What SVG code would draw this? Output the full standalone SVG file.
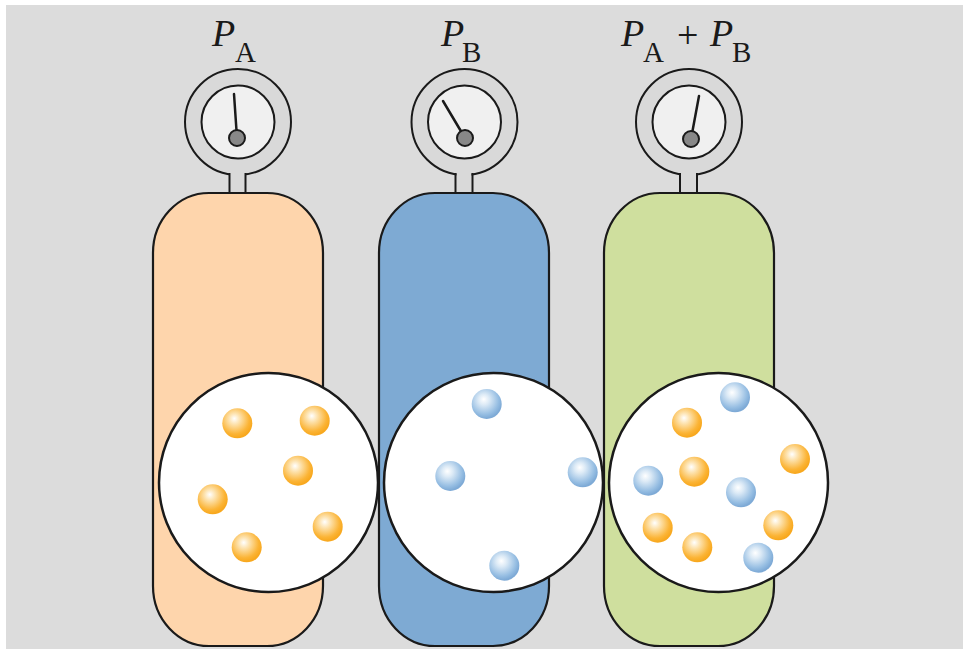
<svg xmlns="http://www.w3.org/2000/svg" width="965" height="649" viewBox="0 0 965 649">
  <defs>
    <radialGradient id="ballOrange" cx="0.42" cy="0.38" r="0.6" fx="0.4" fy="0.34">
      <stop offset="0" stop-color="#ffffff"/>
      <stop offset="0.3" stop-color="#fde3b0"/>
      <stop offset="0.8" stop-color="#fbb436"/>
      <stop offset="1" stop-color="#f8a81e"/>
    </radialGradient>
    <radialGradient id="ballBlue" cx="0.42" cy="0.38" r="0.6" fx="0.4" fy="0.34">
      <stop offset="0" stop-color="#ffffff"/>
      <stop offset="0.3" stop-color="#dceaf6"/>
      <stop offset="0.8" stop-color="#95bde2"/>
      <stop offset="1" stop-color="#7eaad6"/>
    </radialGradient>
  </defs>
  <style>
    .outline { stroke: #1a1a1a; stroke-width: 2.2; }
    .ring { fill: #d9d9d9; stroke: #1a1a1a; stroke-width: 2; }
    .face { fill: #f0f0f0; stroke: #1a1a1a; stroke-width: 2; }
    .hub { fill: #888888; stroke: #1a1a1a; stroke-width: 2; }
    .needle { stroke: #1a1a1a; stroke-width: 2.5; stroke-linecap: round; }
    .stem { fill: #d9d9d9; }
    .stemside { stroke: #1a1a1a; stroke-width: 2; }
    .lens { fill: #ffffff; stroke: #1a1a1a; stroke-width: 2.5; }
    .a { fill: url(#ballOrange); }
    .b { fill: url(#ballBlue); }
    .lbl { font-family: "Liberation Serif", "Times New Roman", serif; fill: #1a1a1a; }
    .var { font-style: italic; font-size: 38px; }
    .sub { font-size: 29px; }
    .op { font-size: 38px; }
  </style>

  <!-- page -->
  <rect x="0" y="0" width="965" height="649" fill="#ffffff"/>
  <rect x="6" y="5" width="957" height="644" fill="#dcdcdc"/>

  <!-- tank A: gas A alone -->
  <g id="tankA">
    <text class="lbl" x="212" y="46"><tspan class="var">P</tspan><tspan class="sub" x="235" y="62">A</tspan></text>
    <circle class="ring" cx="238" cy="122" r="53"/>
    <rect class="stem" x="230" y="165" width="15" height="29"/>
    <line class="stemside" x1="229.5" y1="173" x2="229.5" y2="194"/>
    <line class="stemside" x1="245.5" y1="173" x2="245.5" y2="194"/>
    <circle class="face" cx="238" cy="122" r="36.5"/>
    <line class="needle" x1="237" y1="138" x2="234" y2="94"/>
    <circle class="hub" cx="237" cy="138" r="8"/>
    <rect class="outline" x="153" y="193" width="170" height="453" rx="56" ry="60" fill="#fed5ac"/>
    <circle class="lens" cx="268.5" cy="482.5" r="109.5"/>
    <circle class="a" cx="237.3" cy="423.3" r="15"/>
    <circle class="a" cx="314.7" cy="420.7" r="15"/>
    <circle class="a" cx="298" cy="470.7" r="15"/>
    <circle class="a" cx="212.7" cy="499.3" r="15"/>
    <circle class="a" cx="327.7" cy="526.7" r="15"/>
    <circle class="a" cx="246.7" cy="547.3" r="15"/>
  </g>

  <!-- tank B: gas B alone -->
  <g id="tankB">
    <text class="lbl" x="441" y="46"><tspan class="var">P</tspan><tspan class="sub" x="462" y="62">B</tspan></text>
    <circle class="ring" cx="464.5" cy="122" r="53"/>
    <rect class="stem" x="456.5" y="165" width="15" height="29"/>
    <line class="stemside" x1="455.5" y1="173" x2="455.5" y2="194"/>
    <line class="stemside" x1="472.5" y1="173" x2="472.5" y2="194"/>
    <circle class="face" cx="464.5" cy="122" r="36.5"/>
    <line class="needle" x1="465" y1="138" x2="443" y2="101"/>
    <circle class="hub" cx="465" cy="138" r="8"/>
    <rect class="outline" x="379" y="193" width="170" height="453" rx="56" ry="60" fill="#7eaad3"/>
    <circle class="lens" cx="493.5" cy="482.5" r="109.5"/>
    <circle class="b" cx="486.7" cy="404" r="15"/>
    <circle class="b" cx="450.3" cy="476" r="15"/>
    <circle class="b" cx="582.7" cy="472.3" r="15"/>
    <circle class="b" cx="504.3" cy="565.7" r="15"/>
  </g>

  <!-- tank AB: both gases mixed -->
  <g id="tankAB">
    <text class="lbl" x="621" y="46"><tspan class="var">P</tspan><tspan class="sub" x="643" y="62">A</tspan><tspan class="op" x="677" y="48">+</tspan><tspan class="var" x="710" y="46">P</tspan><tspan class="sub" x="732" y="62">B</tspan></text>
    <circle class="ring" cx="689" cy="122" r="53"/>
    <rect class="stem" x="681" y="165" width="15" height="29"/>
    <line class="stemside" x1="680" y1="173" x2="680" y2="194"/>
    <line class="stemside" x1="697" y1="173" x2="697" y2="194"/>
    <circle class="face" cx="689" cy="122" r="36.5"/>
    <line class="needle" x1="691" y1="139" x2="699" y2="96"/>
    <circle class="hub" cx="691" cy="139" r="8"/>
    <rect class="outline" x="604" y="193" width="170" height="453" rx="56" ry="60" fill="#cfdf9e"/>
    <circle class="lens" cx="718.5" cy="482.5" r="109.5"/>
    <circle class="b" cx="735" cy="397.3" r="15"/>
    <circle class="a" cx="687" cy="422.7" r="15"/>
    <circle class="a" cx="795" cy="459" r="15"/>
    <circle class="b" cx="648.3" cy="480.7" r="15"/>
    <circle class="a" cx="694.3" cy="471.7" r="15"/>
    <circle class="b" cx="741" cy="492.3" r="15"/>
    <circle class="a" cx="657.7" cy="527.7" r="15"/>
    <circle class="a" cx="778.3" cy="525.3" r="15"/>
    <circle class="a" cx="697.3" cy="547.3" r="15"/>
    <circle class="b" cx="758.3" cy="557.7" r="15"/>
  </g>

  <!-- no connectors in this figure -->
  <g id="connectors"/>
</svg>
